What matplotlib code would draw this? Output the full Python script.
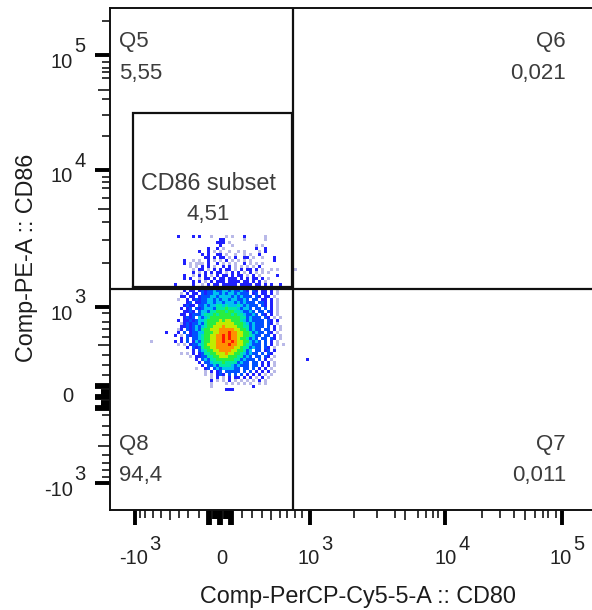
import numpy as np
import matplotlib
matplotlib.use("Agg")
import matplotlib.pyplot as plt
from matplotlib.colors import LinearSegmentedColormap

W, H = 592, 610
plt.rcParams['font.family'] = ['Liberation Sans', 'DejaVu Sans']

# --- axis calibration: value -> figure pixel
x_vals = [-1400, -1000, -900, -800, -700, -600, -500, -400, -300, -200, -100, -50, 0, 50, 100, 200, 300, 400, 500, 600, 700, 800, 900,
          1000, 2000, 3000, 4000, 5000, 6000, 7000, 8000, 9000,
          10000, 20000, 30000, 40000, 50000, 60000, 70000, 80000, 90000, 100000, 190000]
x_px = [110, 135, 140, 145, 153, 161, 170, 179, 188, 199, 209, 214.5, 220, 225.5, 231, 242, 252, 262, 271, 280, 287, 295, 302,
        310, 354, 377, 395, 405, 418, 426, 433, 438,
        445, 482, 500, 514, 525, 535, 543, 548, 556, 562, 594]
y_vals = [-1300, -1000, -900, -800, -700, -600, -500, -400, -300, -200, -100, -50, 0, 50, 100, 200, 300, 400, 500, 600, 700, 800, 900,
          1000, 2000, 3000, 4000, 5000, 6000, 7000, 8000, 9000,
          10000, 20000, 30000, 40000, 50000, 60000, 70000, 80000, 90000, 100000, 200000, 256000]
y_px = [510, 483, 477, 470, 463, 455, 446, 435, 426, 415, 408, 402.5, 397, 391.5, 386, 375, 365, 355, 345, 337, 329, 322, 313,
        307, 263, 240, 222, 209, 198, 188, 182, 177,
        170, 136, 115, 99, 90, 78, 72, 68, 62, 55, 21, 8]

x_major = [-1000, 0, 1000, 10000, 100000]
y_major = [-1000, 0, 1000, 10000, 100000]
x_minor = [-900, -800, -700, -600, -500, -400, -300, -200, -100, -50, 50, 100, 200, 300, 400, 500, 600, 700, 800, 900,
           2000, 3000, 4000, 5000, 6000, 7000, 8000, 9000,
           20000, 30000, 40000, 50000, 60000, 70000, 80000, 90000]
y_minor = [-900, -800, -700, -600, -500, -400, -300, -200, -100, -50, 50, 100, 200, 300, 400, 500, 600, 700, 800, 900,
           2000, 3000, 4000, 5000, 6000, 7000, 8000, 9000,
           20000, 30000, 40000, 50000, 60000, 70000, 80000, 90000, 200000]
long_minor = [-500, 500, 5000, 50000]
block_edge = [-100, 100]
block_mid = [-50, 50]

gate_x = 775      # vertical quadrant line
gate_y = 1420     # horizontal quadrant line
subset_x = [-1032, 760]
subset_y = [1450, 31250]

quadrants = [("Q5", "5,55"), ("Q6", "0,021"), ("Q8", "94,4"), ("Q7", "0,011")]
subset_name, subset_value = "CD86 subset", "4,51"
x_title = "Comp-PerCP-Cy5-5-A :: CD80"
y_title = "Comp-PE-A :: CD86"

# --- density read by eye: one digit per 3 px cell, 0 empty ... 9 hottest
density_rows = [
"         2    2 2   1    1 1   2      1",
"                       22      1      1",
"                      222 1    ",
"                       2   1       1 1",
"                   2  2 1          2  2",
"                2  2 1 1  1  1 1    1 2",
"                 2 2  22 1  1  1 1  2",
"                  22 2 22 1 2  22 1  1   2      ",
"           2  1 1  2 1 1 2 1 1 1 1       2",
"           2 1 111 2  2 1 1 1  2 1 1 1",
"             1 1 2 2 1  2 2 1 1 1 1 2",
"              1 22 1 2 2 22 1 2 22 2 1  1 1     1",
"              2 1 2 2 22 1 2 2 1 2 1 1 1",
"           2  1 2 2 1 2 22 2 22 1 2 1     2",
"           2 2  1 22 2 22 222 2 2 22 2 1",
"              2 2 1 2 222 2222 22 2 2 1",
"        2     2  1 2 22 22222 2222 22 2 2  2",
"        2    2 2  2 2 22 223232 22222 22 2 2",
"           2 22 232" "3343344343343" "2 32 22 2 1",
"          1 2 22 32" "3344343443433" "3 23 22 2 1",
"          22 22 23" "334434444343433" "3 32 22 1",
"         1  2 2323" "344343443443343" " 33 22 2 1",
"            23 22" "33443443444343433" "3 332 2 1",
"           2322 3" "34344554544454343" "33 32 2 1",
"          2 23 32" "34443555655543443" " 33 3 2 1",
"           2232 " "3443556665665543343" " 33 32 1",
"          22 233" "3455565666656554334" "3 32 2 1",
"           2323 " "4345666666666655343" "33 32 1 1",
"         2 2232" "344566667677666543433" "33 32 2",
"          12323" "343566677777766654343" "33 32 1",
"          22323" "434566777877776655343" "33 3 2 1",
"         12 323" "435667778888877665343" "3 33 2 1",
"     2   2 3 23" "344666778889887766534" "33 32 1",
"        2 1 323" "345667788989887766543" "3 33 2 1",
"          2 3 3" "34566778898988766534" "3 33 32 1",
"1       2 2 3 2" "435667788988987766434" "3 3 2 1",
"         1 1 233" "4567778888988776543" "33 3 2 1 1",
"            2 32" "3566778888887765534" "33 32 1",
"              2 3" "45667788887766534" " 33 23 2",
"          1 1 2 2" "35566777877665434" "33 3 32",
"             1 223" "355667776665534" "3 33 32 1",
"               2 3" "435566666655343" "33 3 2 1",
"                2 3" "3455565555343" "3 33 2 2 1",
"                 2 3" "34355554343" "33 33 2 2 1",
"               1  23 " "343444433" " 33 3 2 2 1",
"                  1 2 23 33333 3 3 2 2 2 1",
"                  1 1 232 3 3 3 2 2 2 1 1",
"                    1 2 1 2 22 2 2 1 2 1",
"                    2 1 1 2 1 1 1 1 2 1",
"                    1    1 1 1 1 1  1 1",
"                    1             2",
"                         222",
]
stray_cells = [(41, 52, 2)]   # row, column, level

density_cols = [(0.0, "#ffffff"), (1/9, "#b8b8e8"), (2/9, "#1c1cff"), (3/9, "#0050ff"), (4/9, "#00c4f0"),
                (5/9, "#00e8a8"), (6/9, "#28ee40"), (7/9, "#c0ee00"), (8/9, "#ff9000"), (1.0, "#ff1800")]
cmap = LinearSegmentedColormap.from_list("flow", density_cols)

# --- figure
fig = plt.figure(figsize=(W/100, H/100), dpi=100)
ax = fig.add_axes([110/W, (H-510)/H, 484/W, 502/H])
ax.set_xscale('function', functions=(lambda v: np.interp(v, x_vals, x_px),
                                     lambda p: np.interp(p, x_px, x_vals)))
ax.set_yscale('function', functions=(lambda v: np.interp(v, y_vals, -np.array(y_px)),
                                     lambda p: np.interp(p, -np.array(y_px), y_vals)))
ax.set_xlim(-1400, 190000)
ax.set_ylim(-1300, 256000)

n_cols = 54
Z = np.zeros((len(density_rows), n_cols))
for r, row in enumerate(density_rows):
    for c, ch in enumerate(row[:n_cols]):
        if ch != ' ':
            Z[r, c] = int(ch)
for r, c, lv in stray_cells:
    Z[r, c] = lv
Z = np.ma.masked_equal(Z, 0)
ex = np.interp(150 + 3*np.arange(n_cols + 1), x_px, x_vals)
ey = np.interp(-(235 + 3*np.arange(len(density_rows) + 1)), -np.array(y_px), y_vals)
ax.pcolormesh(ex, ey, Z, cmap=cmap, vmin=0, vmax=9, shading='flat', zorder=1)

# gates
GC = "#101010"
ax.axvline(gate_x, color=GC, lw=1.6, zorder=3)
ax.axhline(gate_y, color=GC, lw=1.6, zorder=3)
ax.plot([subset_x[0], subset_x[0], subset_x[1], subset_x[1], subset_x[0]],
        [subset_y[0], subset_y[1], subset_y[1], subset_y[0], subset_y[0]],
        color=GC, lw=1.6, zorder=3, solid_joinstyle='miter')

# spines and ticks
for s in ax.spines.values():
    s.set_linewidth(1.4)
    s.set_color("#111111")
ax.set_xticks(x_major)
ax.set_xticks(x_minor, minor=True)
ax.set_yticks(y_major)
ax.set_yticks(y_minor, minor=True)
ax.set_xticklabels([])
ax.set_yticklabels([])
ax.tick_params(which='both', color='k', direction='out', labelbottom=False, labelleft=False)
ax.tick_params(which='minor', axis='both', length=5.8, width=1.1)
ax.tick_params(which='major', axis='both', length=10.8, width=2.8)

def restyle(axis, values, scale):
    for t, v in zip(axis.get_minor_ticks(), values):
        if v in long_minor:
            t.tick1line.set_markersize(7.5 * scale)
        elif v in block_edge:
            t.tick1line.set_markersize(10.8)
            t.tick1line.set_markeredgewidth(4.2)
        elif v in block_mid:
            t.tick1line.set_markersize(6.5)
            t.tick1line.set_markeredgewidth(4.2)
restyle(ax.xaxis, x_minor, 1.0)
restyle(ax.yaxis, y_minor, 1.2)
for t, v in zip(ax.xaxis.get_major_ticks(), x_major):
    if v == 0:
        t.tick1line.set_markeredgewidth(4.2)
for t, v in zip(ax.yaxis.get_major_ticks(), y_major):
    if v == 0:
        t.tick1line.set_markeredgewidth(4.2)

# text helper in figure pixels
def T(px, py, s, size=16, color="#3c3c3c", ha='center', va='center', **kw):
    fig.text(px/W, 1-py/H, s, fontsize=size, color=color, ha=ha, va=va, **kw)

# quadrant labels
T(119, 41.5, quadrants[0][0], ha='left'); T(119, 73, quadrants[0][1], ha='left')
T(566, 41.5, quadrants[1][0], ha='right'); T(566, 73, quadrants[1][1], ha='right')
T(119, 444.5, quadrants[2][0], ha='left'); T(119, 476, quadrants[2][1], ha='left')
T(566, 444.5, quadrants[3][0], ha='right'); T(566, 476, quadrants[3][1], ha='right')
T(208, 183, subset_name, size=16.8); T(208, 214, subset_value)

# tick labels: base and raised exponent are separate, same size
TS = 14.5
for py, base, exp in [(62, "10", "5"), (177, "10", "4"), (314, "10", "3"), (490, "-10", "3")]:
    T(73, py, base, size=TS, color="#222222", ha='right')
    T(80, py-16, exp, size=TS, color="#222222")
T(68, 396, "0", size=TS, color="#222222")
for px, base, exp in [(148, "-10", "3"), (320, "10", "3"), (457, "10", "4"), (572, "10", "5")]:
    T(px, 559, base, size=TS, color="#222222", ha='right')
    T(px+7, 544, exp, size=TS, color="#222222")
T(222, 558, "0", size=TS, color="#222222")

# axis titles
T(358, 596, x_title, size=16.8, color="#1c1c1c")
T(27, 258, y_title, size=16.8, color="#1c1c1c", rotation=90)

fig.savefig("out.png", dpi=100)
